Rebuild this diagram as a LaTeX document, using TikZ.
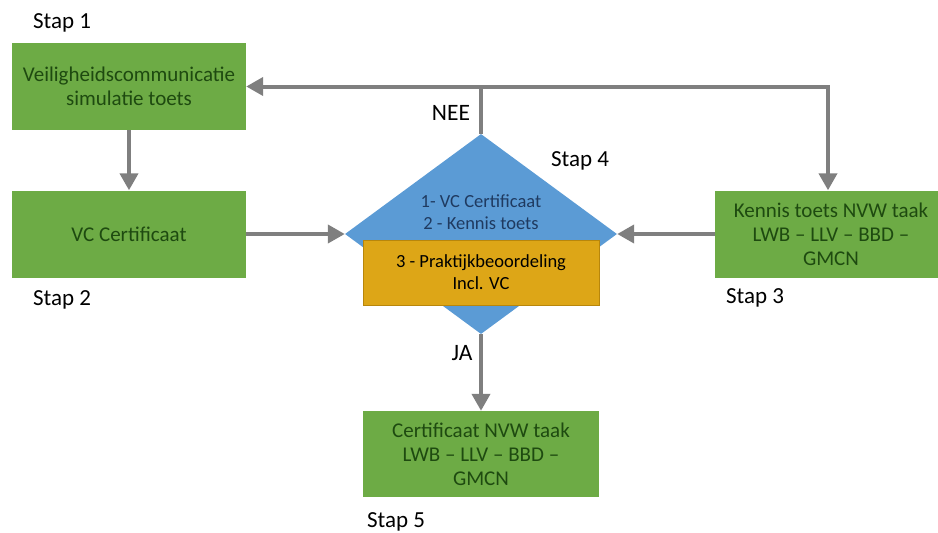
\documentclass[tikz,border=0pt]{standalone}
\usepackage{fontspec}
\setmainfont{Carlito}
\usepackage{xcolor}
\usetikzlibrary{arrows.meta,shapes.geometric,positioning}
\definecolor{groen}{HTML}{6DAB45}
\definecolor{groentekst}{HTML}{1E4A10}
\definecolor{blauw}{HTML}{5B9BD5}
\definecolor{blauwtekst}{HTML}{1F3A60}
\definecolor{oranje}{HTML}{DDA617}
\definecolor{oranjerand}{HTML}{B8860B}
\definecolor{pijlgrijs}{HTML}{7F7F7F}
\tikzset{
  stapbox/.style={rectangle,fill=groen,text=groentekst,align=center,inner sep=2pt,
    font=\fontsize{21}{24}\selectfont},
  keuze/.style={diamond,fill=blauw,inner sep=0pt,minimum width=272,minimum height=200,aspect=1.36},
  praktijk/.style={rectangle,fill=oranje,draw=oranjerand,line width=0.8pt,align=center,
    minimum width=236,minimum height=65,font=\fontsize{18.5}{22}\selectfont},
  staplabel/.style={font=\fontsize{23}{26}\selectfont},
  pijl/.style={-{Triangle[length=17pt,width=18pt]},pijlgrijs,line width=4pt},
  lijn/.style={pijlgrijs,line width=4pt}
}

\begin{document}
\begin{tikzpicture}[x=1pt,y=-1pt]
\useasboundingbox (0,0) rectangle (938,533);
% stappen
\node[stapbox,minimum width=234,minimum height=87] (stap1) at (129,86.5) {Veiligheidscommunicatie\\simulatie toets};
\node[stapbox,minimum width=234,minimum height=87] (stap2) at (129,234) {VC Certificaat};
\node[stapbox,minimum width=232,minimum height=87] (stap3) at (831,234) {Kennis toets NVW taak\\LWB -- LLV -- BBD --\\GMCN};
\node[keuze] (beslis) at (481,234) {};
\node[text=blauwtekst,align=center,font=\fontsize{18.5}{22}\selectfont] (eisen) at (481,212) {1- VC Certificaat\\2 - Kennis toets};
\node[praktijk] (praktijk) at (481,272.5) {3 - Praktijkbeoordeling\\Incl. VC};
\node[stapbox,minimum width=236,minimum height=86] (stap5) at (481,454) {Certificaat NVW taak\\LWB -- LLV -- BBD --\\GMCN};
% labels
\node[staplabel] (l1) at (62,23) {Stap 1};
\node[staplabel] (l2) at (62,300) {Stap 2};
\node[staplabel] (l3) at (755,298) {Stap 3};
\node[staplabel] (l4) at (580,161) {Stap 4};
\node[staplabel] (l5) at (396,522) {Stap 5};
\node[font=\fontsize{23.5}{26}\selectfont] (nee) at (451,113) {NEE};
\node[font=\fontsize{23.5}{26}\selectfont] (ja) at (462,353) {JA};
% pijlen
\coordinate (splits) at (beslis.north |- stap1.east);
\draw[pijl] (stap1) -- (stap2);
\draw[pijl] (stap2.east) -- (beslis.west);
\draw[pijl] (stap3.west) -- (beslis.east);
\draw[lijn] (beslis.north) -- (splits);
\draw[pijl] (splits) -- (stap1.east);
\draw[pijl] ([xshift=-2pt]splits) -| ([xshift=-3pt]stap3.north);
\draw[pijl] (beslis.south) -- (stap5);
\end{tikzpicture}
\end{document}
